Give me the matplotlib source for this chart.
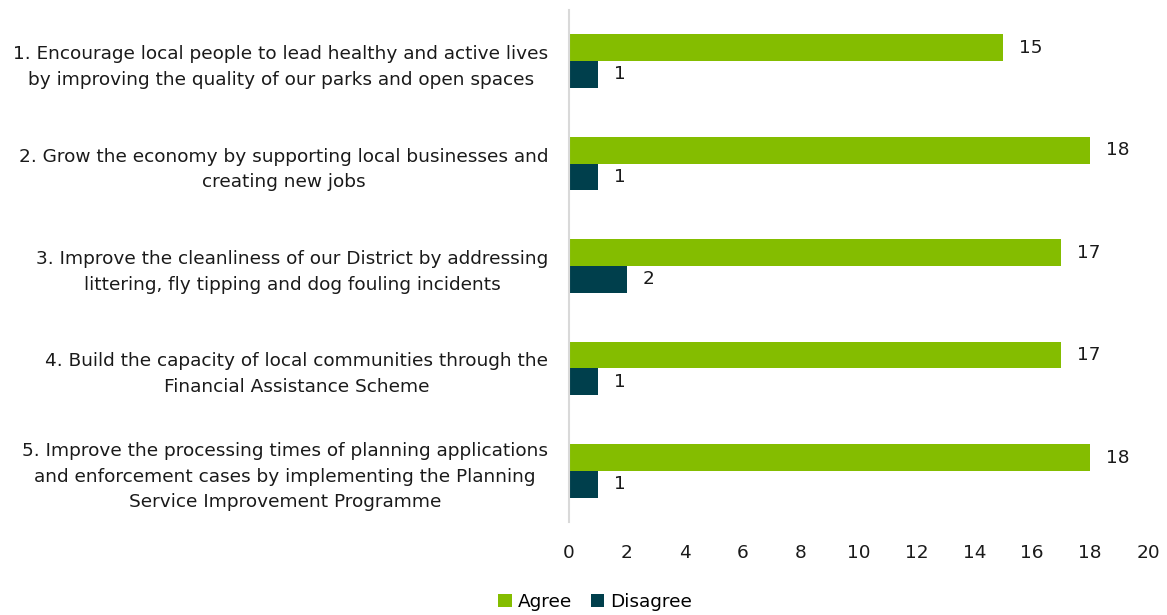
import numpy as np
import matplotlib.pyplot as plt

categories = [
    "1. Encourage local people to lead healthy and active lives\nby improving the quality of our parks and open spaces",
    "2. Grow the economy by supporting local businesses and\ncreating new jobs",
    "3. Improve the cleanliness of our District by addressing\nlittering, fly tipping and dog fouling incidents",
    "4. Build the capacity of local communities through the\nFinancial Assistance Scheme",
    "5. Improve the processing times of planning applications\nand enforcement cases by implementing the Planning\nService Improvement Programme",
]
agree = [15, 18, 17, 17, 18]
disagree = [1, 1, 2, 1, 1]

green = "#84BD00"
teal = "#003F4C"

plt.rcParams['font.family'] = ['DejaVu Sans']
fs = 13.3
fig = plt.figure(figsize=(11.67, 6.15), dpi=100)
ax = fig.add_axes([0.4876, 0.151, 0.4961, 0.833])

y = np.arange(len(categories))
h = 0.26
b1 = ax.barh(y - h / 2, agree, height=h, color=green, label="Agree")
b2 = ax.barh(y + h / 2, disagree, height=h, color=teal, label="Disagree")

for bars, vals in ((b1, agree), (b2, disagree)):
    for bar, v in zip(bars, vals):
        ax.annotate(str(v), (bar.get_width(), bar.get_y() + bar.get_height() / 2),
                    xytext=(16, 0), textcoords="offset pixels",
                    ha="left", va="center", fontsize=fs, color="#1a1a1a")

ax.set_xlim(0, 20)
ax.set_xticks(range(0, 21, 2))
ax.set_ylim(4.5, -0.5)
ax.set_yticks(y)
ax.set_yticklabels(categories, fontsize=fs, multialignment="center",
                   color="#1a1a1a", linespacing=1.55)
ax.tick_params(axis="y", length=0, pad=15)
ax.tick_params(axis="x", length=0, pad=16, labelsize=fs, labelcolor="#1a1a1a")

for s in ("top", "right", "bottom"):
    ax.spines[s].set_visible(False)
ax.spines["left"].set_color("#D9D9D9")
ax.spines["left"].set_linewidth(1.5)

fig.legend(handles=[b1, b2], loc="center", bbox_to_anchor=(0.51, 0.021), ncol=2,
           frameon=False, fontsize=fs, handlelength=0.75, handleheight=0.75,
           handletextpad=0.3, columnspacing=1.0, borderaxespad=0)

fig.savefig("out.png", dpi=100)
